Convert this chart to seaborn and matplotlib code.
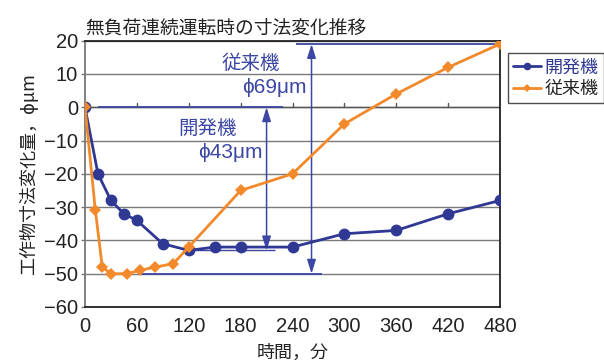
import matplotlib
matplotlib.use("Agg")
import matplotlib.pyplot as plt
from matplotlib.lines import Line2D
import seaborn as sns
import pandas as pd

# Series: elapsed time (min) and workpiece dimension change (phi um)
dev_label = "開発機"
dev_time = [0, 15, 30, 45, 60, 90, 120, 150, 180, 240, 300, 360, 420, 480]
dev_change = [0, -20, -28, -32, -34, -41, -43, -42, -42, -42, -38, -37, -32, -28]

conv_label = "従来機"
conv_time = [0, 12, 20, 30, 48, 64, 81, 102, 120, 180, 240, 300, 360, 420, 480]
conv_change = [0, -31, -48, -50, -50, -49, -48, -47, -42, -25, -20, -5, 4, 12, 19]

x_ticks = [0, 60, 120, 180, 240, 300, 360, 420, 480]
y_ticks = [20, 10, 0, -10, -20, -30, -40, -50, -60]

title = "無負荷連続運転時の寸法変化推移"
x_label = "時間，分"
y_label = "工作物寸法変化量，ϕμm"
dev_span_text = "ϕ43μm"
conv_span_text = "ϕ69μm"

BLUE = "#2f3893"
ORANGE = "#f28a2c"
ANNO = "#3c46a3"

sns.set_theme(style="white")
plt.rcParams["font.family"] = ["Noto Sans CJK JP", "DejaVu Sans"]
NUM_FONT = ["Liberation Sans", "DejaVu Sans"]

df = pd.concat([
    pd.DataFrame({"time": dev_time, "change": dev_change, "machine": dev_label}),
    pd.DataFrame({"time": conv_time, "change": conv_change, "machine": conv_label}),
])

fig = plt.figure(figsize=(6.04, 3.63), dpi=100)
ax = fig.add_axes([85 / 604, 1 - 307 / 363, 415 / 604, 266.3 / 363])

# horizontal gridlines
ax.set_ylim(-60, 20)
ax.set_xlim(0, 480)
ax.set_yticks(y_ticks)
ax.set_xticks(x_ticks)
ax.yaxis.grid(True, color="#7a7a7a", lw=1.0)
ax.xaxis.grid(False)
ax.set_axisbelow(True)

# annotation guide lines (drawn under the series)
ax.hlines(0, 15, 229, color=ANNO, lw=1.3, zorder=1.5)
ax.hlines(-43, 115, 220, color=ANNO, lw=1.0, zorder=1.5)
ax.hlines(max(conv_change), 244, 474, color=ANNO, lw=1.3, zorder=1.5)
ax.hlines(min(conv_change), 61, 274, color=ANNO, lw=1.3, zorder=1.5)

arrow_kw = dict(arrowstyle="<|-|>,head_length=0.7,head_width=0.22",
                color=ANNO, lw=1.1, shrinkA=0, shrinkB=0)
ax.annotate("", xy=(210, 0), xytext=(210, min(dev_change)), arrowprops=arrow_kw)
ax.annotate("", xy=(262, max(conv_change)), xytext=(262, min(conv_change)),
            arrowprops=arrow_kw)

ax.text(192, 13.3, conv_label, color=ANNO, fontsize=14, ha="center", va="center")
ax.text(219, 5.8, conv_span_text, color=ANNO, fontsize=15, ha="center", va="center",
        family=NUM_FONT)
ax.text(142, -6.8, dev_label, color=ANNO, fontsize=14, ha="center", va="center")
ax.text(168, -13.7, dev_span_text, color=ANNO, fontsize=15, ha="center", va="center",
        family=NUM_FONT)

sns.lineplot(data=df, x="time", y="change", hue="machine", style="machine",
             palette={dev_label: BLUE, conv_label: ORANGE},
             markers={dev_label: "o", conv_label: "D"},
             dashes=False, lw=2.0, markersize=8.5, markeredgewidth=0,
             ax=ax, legend=False, zorder=3)
# orange diamonds a touch smaller than the blue circles
for line in ax.lines:
    if matplotlib.colors.to_hex(line.get_color()) == ORANGE:
        line.set_markersize(6.5)

# small ticks sitting on the zero line
for xt in x_ticks[1:-1]:
    ax.plot([xt, xt], [0, 1.2], color="#555555", lw=1.0, zorder=2)
ax.axhline(0, color="#555555", lw=1.0, zorder=1.2)

# frame
for side in ["top", "right", "bottom"]:
    ax.spines[side].set_color("#222222")
    ax.spines[side].set_linewidth(1.3)
ax.spines["left"].set_color("#777777")
ax.spines["left"].set_linewidth(1.3)

ax.tick_params(axis="y", left=True, length=3, width=1, color="#777777", pad=2,
               labelsize=14.5, labelcolor="#222222")
ax.tick_params(axis="x", bottom=False, pad=1, labelsize=14.5, labelcolor="#222222")
ax.set_yticklabels(["−" + str(abs(v)) if v < 0 else str(v) for v in y_ticks])
for lab in ax.get_xticklabels() + ax.get_yticklabels():
    lab.set_family(NUM_FONT)

ax.set_xlabel(x_label, fontsize=13, color="#222222", labelpad=6)
ax.set_ylabel(y_label, fontsize=13, color="#222222", labelpad=4)
ax.set_title(title, fontsize=13.5, color="#222222", loc="left", x=0.0, pad=5)

# legend with line + marker handles
handles = [
    Line2D([], [], color=BLUE, lw=2, marker="o", markersize=5.5, markeredgewidth=0),
    Line2D([], [], color=ORANGE, lw=2, marker="D", markersize=4.5, markeredgewidth=0),
]
leg = fig.legend(handles, [dev_label, conv_label], loc="upper left",
                 bbox_to_anchor=(508 / 604, 1 - 53 / 363), frameon=True,
                 fancybox=False, fontsize=13, handlelength=1.5, handletextpad=0.2,
                 borderpad=0.3, labelspacing=0.2, borderaxespad=0)
leg.get_frame().set_edgecolor("#222222")
leg.get_frame().set_linewidth(1.0)
leg.get_texts()[0].set_color(BLUE)
leg.get_texts()[1].set_color("#222222")

fig.savefig("out.png", dpi=100)
